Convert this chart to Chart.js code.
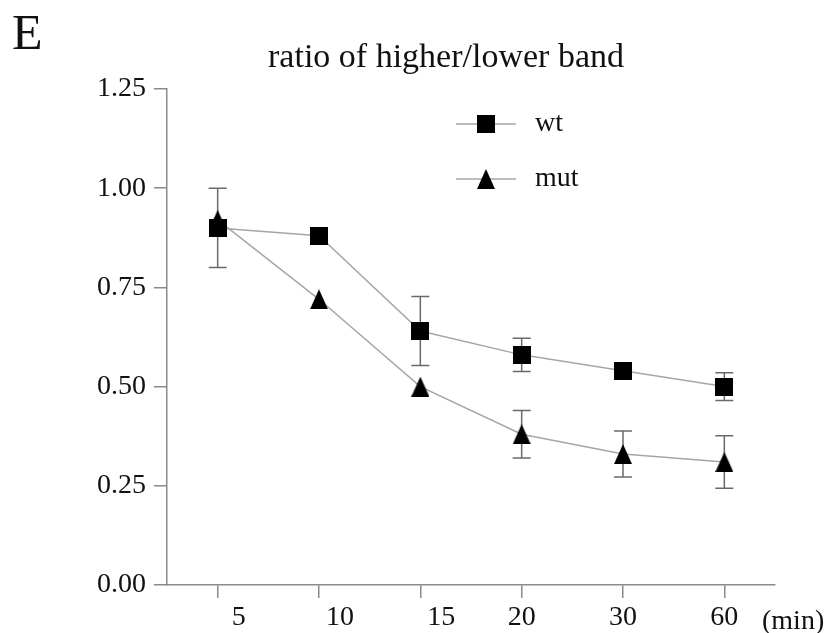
<!DOCTYPE html>
<html><head><meta charset="utf-8">
<script src="https://cdn.jsdelivr.net/npm/chart.js@4"></script>
<style>html,body{margin:0;padding:0;background:#fff;} canvas{display:block}</style>
</head><body>
<canvas id="c" width="831" height="633"></canvas>
<script>
const panelLetter = 'E';
const chartTitle = 'ratio of higher/lower band';
const xUnit = '(min)';
const timePoints = ['5', '10', '15', '20', '30', '60'];
const seriesNames = ['wt', 'mut'];
const wtValues = [0.90, 0.88, 0.64, 0.58, 0.54, 0.50];
const wtErrors = [0.10, 0, 0.087, 0.042, 0, 0.035];
const mutValues = [0.92, 0.72, 0.50, 0.38, 0.33, 0.31];
const mutErrors = [0, 0, 0, 0.06, 0.058, 0.066];
const yTickValues = [0, 0.25, 0.50, 0.75, 1.00, 1.25];

const FONT = '"Liberation Serif", "Times New Roman", serif';
const AXIS_COLOR = '#8a8a8a';
const LINE_COLOR = '#a6a6a6';

function makeSquare(s) {
  const c = document.createElement('canvas'); c.width = s; c.height = s;
  const g = c.getContext('2d'); g.fillStyle = '#000'; g.fillRect(0, 0, s, s); return c;
}
function makeTriangle(w, h) {
  const c = document.createElement('canvas'); c.width = w; c.height = h;
  const g = c.getContext('2d'); g.fillStyle = '#000';
  g.beginPath(); g.moveTo(w / 2, 0); g.lineTo(w, h); g.lineTo(0, h); g.closePath(); g.fill(); return c;
}
const squareImg = makeSquare(18);
const triImg = makeTriangle(18, 20);

const errorBars = {
  id: 'errorBars',
  beforeDatasetsDraw(chart) {
    const { ctx, scales: { x, y } } = chart;
    ctx.save();
    ctx.strokeStyle = '#6a6a6a';
    ctx.lineWidth = 1.5;
    chart.data.datasets.forEach(ds => {
      ds.data.forEach((v, i) => {
        const e = ds.errors[i];
        if (!e) return;
        const px = x.getPixelForValue(i);
        const yt = y.getPixelForValue(v + e);
        const yb = y.getPixelForValue(v - e);
        ctx.beginPath();
        ctx.moveTo(px, yt); ctx.lineTo(px, yb);
        ctx.moveTo(px - 9, yt); ctx.lineTo(px + 9, yt);
        ctx.moveTo(px - 9, yb); ctx.lineTo(px + 9, yb);
        ctx.stroke();
      });
    });
    ctx.restore();
  }
};

const decorations = {
  id: 'decorations',
  afterDraw(chart) {
    const { ctx } = chart;
    ctx.save();
    ctx.fillStyle = '#111';
    ctx.textBaseline = 'alphabetic';
    ctx.textAlign = 'left';
    ctx.font = '50px ' + FONT;
    ctx.fillText(panelLetter, 12, 49);
    ctx.font = '34px ' + FONT;
    ctx.textAlign = 'center';
    ctx.fillText(chartTitle, 446, 67);
    ctx.textAlign = 'left';
    ctx.font = '28px ' + FONT;
    ctx.fillText(xUnit, 762, 629);
    // legend
    const rows = [124, 179];
    chart.data.datasets.forEach((ds, i) => {
      const yy = rows[i];
      ctx.strokeStyle = LINE_COLOR; ctx.lineWidth = 1.5;
      ctx.beginPath(); ctx.moveTo(456, yy); ctx.lineTo(516, yy); ctx.stroke();
      const img = ds.pointStyle;
      ctx.drawImage(img, 486 - img.width / 2, yy - img.height / 2);
      ctx.fillStyle = '#111';
      ctx.textBaseline = 'middle';
      ctx.fillText(ds.label, 535, yy);
    });
    ctx.restore();
  }
};

new Chart(document.getElementById('c'), {
  type: 'line',
  data: {
    labels: timePoints,
    datasets: [
      { label: seriesNames[0], data: wtValues, errors: wtErrors, borderColor: LINE_COLOR, borderWidth: 1.5,
        pointStyle: squareImg, pointRadius: 10, tension: 0, fill: false },
      { label: seriesNames[1], data: mutValues, errors: mutErrors, borderColor: LINE_COLOR, borderWidth: 1.5,
        pointStyle: triImg, pointRadius: 10, tension: 0, fill: false }
    ]
  },
  options: {
    responsive: false,
    animation: false,
    layout: { padding: { left: 0, top: 89, right: 56, bottom: 0 } },
    plugins: { legend: { display: false }, tooltip: { enabled: false }, title: { display: false } },
    scales: {
      x: {
        type: 'category',
        offset: true,
        afterFit: s => { s.height = 48; },
        grid: { display: true, drawOnChartArea: false, drawTicks: true, tickLength: 13, color: AXIS_COLOR, lineWidth: 1.5 },
        border: { display: true, color: AXIS_COLOR, width: 1.5 },
        ticks: {
          color: '#111', font: { family: FONT, size: 28 }, padding: 3, maxRotation: 0, autoSkip: false,
          callback: (v, i) => (i < 3 ? '\u2002\u2002\u2002' : '') + timePoints[i]
        }
      },
      y: {
        min: 0, max: 1.25,
        afterFit: s => { s.width = 167; },
        afterBuildTicks: s => { s.ticks = yTickValues.map(v => ({ value: v })); },
        grid: { display: true, drawOnChartArea: false, drawTicks: true, tickLength: 13, color: AXIS_COLOR, lineWidth: 1.5 },
        border: { display: true, color: AXIS_COLOR, width: 1.5 },
        ticks: { color: '#111', font: { family: FONT, size: 28 }, padding: 8, callback: v => Number(v).toFixed(2) }
      }
    }
  },
  plugins: [errorBars, decorations]
});
</script>
</body></html>
